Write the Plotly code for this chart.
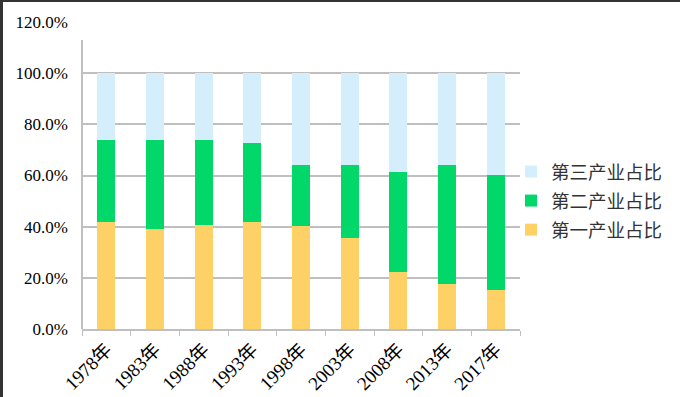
import plotly.graph_objects as go

categories = ["1978年", "1983年", "1988年", "1993年", "1998年", "2003年", "2008年", "2013年", "2017年"]
primary = [41.8, 39.0, 40.6, 41.8, 40.2, 35.6, 22.2, 17.5, 15.2]
secondary = [32.1, 34.9, 33.3, 30.9, 23.9, 28.5, 39.2, 46.6, 45.0]
tertiary = [round(100 - p - s, 1) for p, s in zip(primary, secondary)]
series_names = ["第一产业占比", "第二产业占比", "第三产业占比"]
colors = ["#FED166", "#02D86A", "#D5EEFB"]
y_ticks = [0, 20, 40, 60, 80, 100, 120]
y_tick_labels = ["0.0%", "20.0%", "40.0%", "60.0%", "80.0%", "100.0%", "120.0%"]

W, H = 680, 397
ML, MR, MT, MB = 82, 160, 22, 68
PW = W - ML - MR
PH = H - MT - MB

fig = go.Figure()
for i, (name, vals, col) in enumerate(zip(series_names, [primary, secondary, tertiary], colors)):
    fig.add_trace(go.Bar(x=categories, y=vals, name=name, legendgroup=name, legendrank=3 - i,
                         marker=dict(color=col, line=dict(width=0))))

font_num = "Liberation Serif, Noto Sans CJK SC, serif"

fig.update_layout(
    width=W, height=H,
    margin=dict(l=ML, r=MR, t=MT, b=MB, pad=0, autoexpand=False),
    barmode="stack", bargap=0.624,
    plot_bgcolor="white", paper_bgcolor="white",
    showlegend=True,
    legend=dict(
        x=(511 - ML) / PW, xanchor="left",
        y=(H - MB - 153) / PH, yanchor="top",
        traceorder="grouped", tracegroupgap=2,
        font=dict(family="Noto Sans CJK SC", size=18.5, color="#333333"),
        bgcolor="rgba(0,0,0,0)",
    ),
    xaxis=dict(
        automargin=False,
        showgrid=False, showline=True, linecolor="#BFBFBF", linewidth=2,
        ticks="outside", tickson="boundaries", ticklen=5, tickcolor="#BFBFBF", tickwidth=1,
        tickangle=-45, tickfont=dict(family=font_num, size=19, color="#000000"),
    ),
    yaxis=dict(
        automargin=False,
        range=[0, 120], tickvals=y_ticks, ticktext=y_tick_labels,
        showgrid=True, gridcolor="#BFBFBF", gridwidth=2,
        showline=False, zeroline=False, ticks="",
        ticklabelstandoff=13,
        tickfont=dict(family=font_num, size=17, color="#000000"),
    ),
    shapes=[
        dict(type="line", xref="paper", yref="y", x0=0, x1=0, y0=0, y1=113,
             line=dict(color="#BFBFBF", width=2)),
        dict(type="line", xref="paper", yref="paper", x0=-ML / PW, x1=(W - ML) / PW,
             y0=(H - MB - 1) / PH, y1=(H - MB - 1) / PH, line=dict(color="#333333", width=2)),
        dict(type="line", xref="paper", yref="paper", x0=(-ML + 1.5) / PW, x1=(-ML + 1.5) / PW,
             y0=(H - MB) / PH, y1=-MB / PH, line=dict(color="#333333", width=3)),
    ],
)

fig.write_html("out.html", config={"displayModeBar": False},
               post_script="document.body.style.margin='0';document.body.style.overflow='hidden';")
